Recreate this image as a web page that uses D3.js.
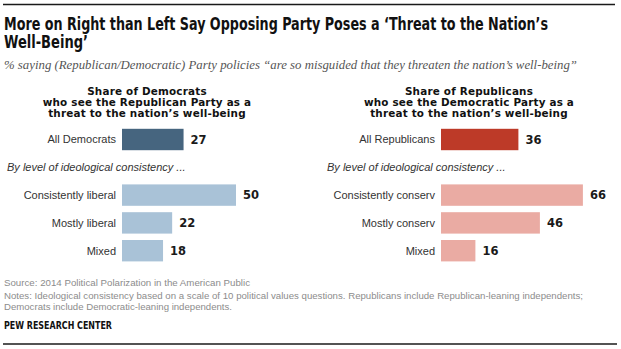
<!DOCTYPE html>
<html>
<head>
<meta charset="utf-8">
<script src="https://d3js.org/d3.v7.min.js"></script>
<style>
  body { margin: 0; background: #fff; }
  svg { display: block; }
</style>
</head>
<body>
<div id="chart"></div>
<script>
const demCategories = ['All Democrats', 'Consistently liberal', 'Mostly liberal', 'Mixed'];
const demValues = [27, 50, 22, 18];
const repCategories = ['All Republicans', 'Consistently conserv', 'Mostly conserv', 'Mixed'];
const repValues = [36, 66, 46, 16];

const demTitle = ['Share of Democrats', 'who see the Republican Party as a', 'threat to the nation\u2019s well-being'];
const repTitle = ['Share of Republicans', 'who see the Democratic Party as a', 'threat to the nation\u2019s well-being'];
const subheadText = 'By level of ideological consistency ...';

const W = 621, H = 349;

const svg = d3.select('#chart').append('svg')
    .attr('width', W)
    .attr('height', H);

// rules top and bottom
svg.append('line').attr('x1', 3).attr('x2', 615).attr('y1', 4.5).attr('y2', 4.5)
    .attr('stroke', '#1a1a1a').attr('stroke-width', 1.5);
svg.append('line').attr('x1', 3).attr('x2', 617).attr('y1', 344).attr('y2', 344)
    .attr('stroke', '#1a1a1a').attr('stroke-width', 1.5);

// headline
const titleFont = '"Liberation Sans Narrow", "DejaVu Sans Condensed", "Roboto", sans-serif';
svg.append('text').attr('x', 4).attr('y', 30)
    .attr('font-family', titleFont).attr('font-weight', 'bold').attr('font-size', 17.5)
    .attr('fill', '#111')
    .attr('textLength', 544).attr('lengthAdjust', 'spacingAndGlyphs')
    .text('More on Right than Left Say Opposing Party Poses a \u2018Threat to the Nation\u2019s');
svg.append('text').attr('x', 4).attr('y', 47.5)
    .attr('font-family', titleFont).attr('font-weight', 'bold').attr('font-size', 17.5)
    .attr('fill', '#111')
    .attr('textLength', 84).attr('lengthAdjust', 'spacingAndGlyphs')
    .text('Well-Being\u2019');

svg.append('text').attr('x', 4).attr('y', 69)
    .attr('font-family', '"Liberation Serif", "DejaVu Serif", serif').attr('font-style', 'italic')
    .attr('font-size', 12).attr('fill', '#555')
    .attr('textLength', 573).attr('lengthAdjust', 'spacingAndGlyphs')
    .text('% saying (Republican/Democratic) Party policies \u201care so misguided that they threaten the nation\u2019s well-being\u201d');

// rows: the overall bar, a slot for the subhead, then the three ideology groups
const rowKeys = ['all', 'subhead', 'r1', 'r2', 'r3'];
const y = d3.scaleBand()
    .domain(rowKeys)
    .range([128.8, 261.4])
    .paddingInner(0.23)
    .paddingOuter(0);

function drawPanel(opts) {
    const g = svg.append('g');
    const x = d3.scaleLinear().domain([0, 100]).range([opts.x0, opts.x0 + opts.span]);
    const rows = opts.categories.map((c, i) => ({
        cat: c,
        value: opts.values[i],
        key: i === 0 ? 'all' : 'r' + i
    }));

    g.selectAll('.ptitle')
        .data(opts.title)
        .enter()
        .append('text')
        .attr('class', 'ptitle')
        .attr('x', opts.titleX)
        .attr('y', (d, i) => 94.5 + i * 11)
        .attr('text-anchor', 'middle')
        .attr('font-family', '"DejaVu Sans", sans-serif')
        .attr('font-weight', 'bold')
        .attr('font-size', 10.4)
        .attr('letter-spacing', 0.2)
        .attr('fill', '#111')
        .text(d => d);

    g.selectAll('.bar')
        .data(rows)
        .enter()
        .append('rect')
        .attr('class', 'bar')
        .attr('x', x(0))
        .attr('y', d => y(d.key))
        .attr('width', d => x(d.value) - x(0))
        .attr('height', y.bandwidth())
        .attr('fill', d => d.key === 'all' ? opts.dark : opts.light);

    g.selectAll('.cat')
        .data(rows)
        .enter()
        .append('text')
        .attr('class', 'cat')
        .attr('x', x(0) - 6)
        .attr('y', d => y(d.key) + y.bandwidth() / 2)
        .attr('dy', '0.35em')
        .attr('text-anchor', 'end')
        .attr('font-family', '"Liberation Sans", Arial, sans-serif')
        .attr('font-size', 11)
        .attr('fill', '#333')
        .text(d => d.cat);

    g.selectAll('.val')
        .data(rows)
        .enter()
        .append('text')
        .attr('class', 'val')
        .attr('x', d => x(d.value) + 7)
        .attr('y', d => y(d.key) + y.bandwidth() / 2)
        .attr('dy', '0.36em')
        .attr('font-family', '"DejaVu Sans", sans-serif')
        .attr('font-weight', 'bold')
        .attr('font-size', 11.5)
        .attr('fill', '#1a1a1a')
        .text(d => d.value);

    g.append('text')
        .attr('x', opts.subX)
        .attr('y', y('subhead') + y.bandwidth() / 2)
        .attr('dy', '0.35em')
        .attr('font-family', '"Liberation Sans", Arial, sans-serif')
        .attr('font-style', 'italic')
        .attr('font-size', 11)
        .attr('fill', '#333')
        .text(subheadText);
}

drawPanel({
    categories: demCategories, values: demValues, title: demTitle,
    x0: 122, span: 228, titleX: 147, subX: 7,
    dark: '#46657f', light: '#a9c2d7'
});
drawPanel({
    categories: repCategories, values: repValues, title: repTitle,
    x0: 441, span: 215, titleX: 469, subX: 327,
    dark: '#bd3a28', light: '#eaaba3'
});

// footer
const footFont = '"Liberation Sans", Arial, sans-serif';
const footer = [
    { text: 'Source: 2014 Political Polarization in the American Public', y: 286, len: 246 },
    { text: 'Notes: Ideological consistency based on a scale of 10 political values questions. Republicans include Republican-leaning independents;', y: 298.5, len: 579 },
    { text: 'Democrats include Democratic-leaning independents.', y: 309.5, len: 228 }
];
svg.selectAll('.foot')
    .data(footer)
    .enter()
    .append('text')
    .attr('class', 'foot')
    .attr('x', 4)
    .attr('y', d => d.y)
    .attr('font-family', footFont)
    .attr('font-size', 9.5)
    .attr('fill', '#8c8c8c')
    .attr('textLength', d => d.len)
    .attr('lengthAdjust', 'spacingAndGlyphs')
    .text(d => d.text);

svg.append('text').attr('x', 4).attr('y', 328.5)
    .attr('font-family', titleFont).attr('font-size', 10)
    .attr('font-weight', 'bold')
    .attr('fill', '#111')
    .attr('textLength', 108).attr('lengthAdjust', 'spacingAndGlyphs')
    .text('PEW RESEARCH CENTER');
</script>
</body>
</html>
